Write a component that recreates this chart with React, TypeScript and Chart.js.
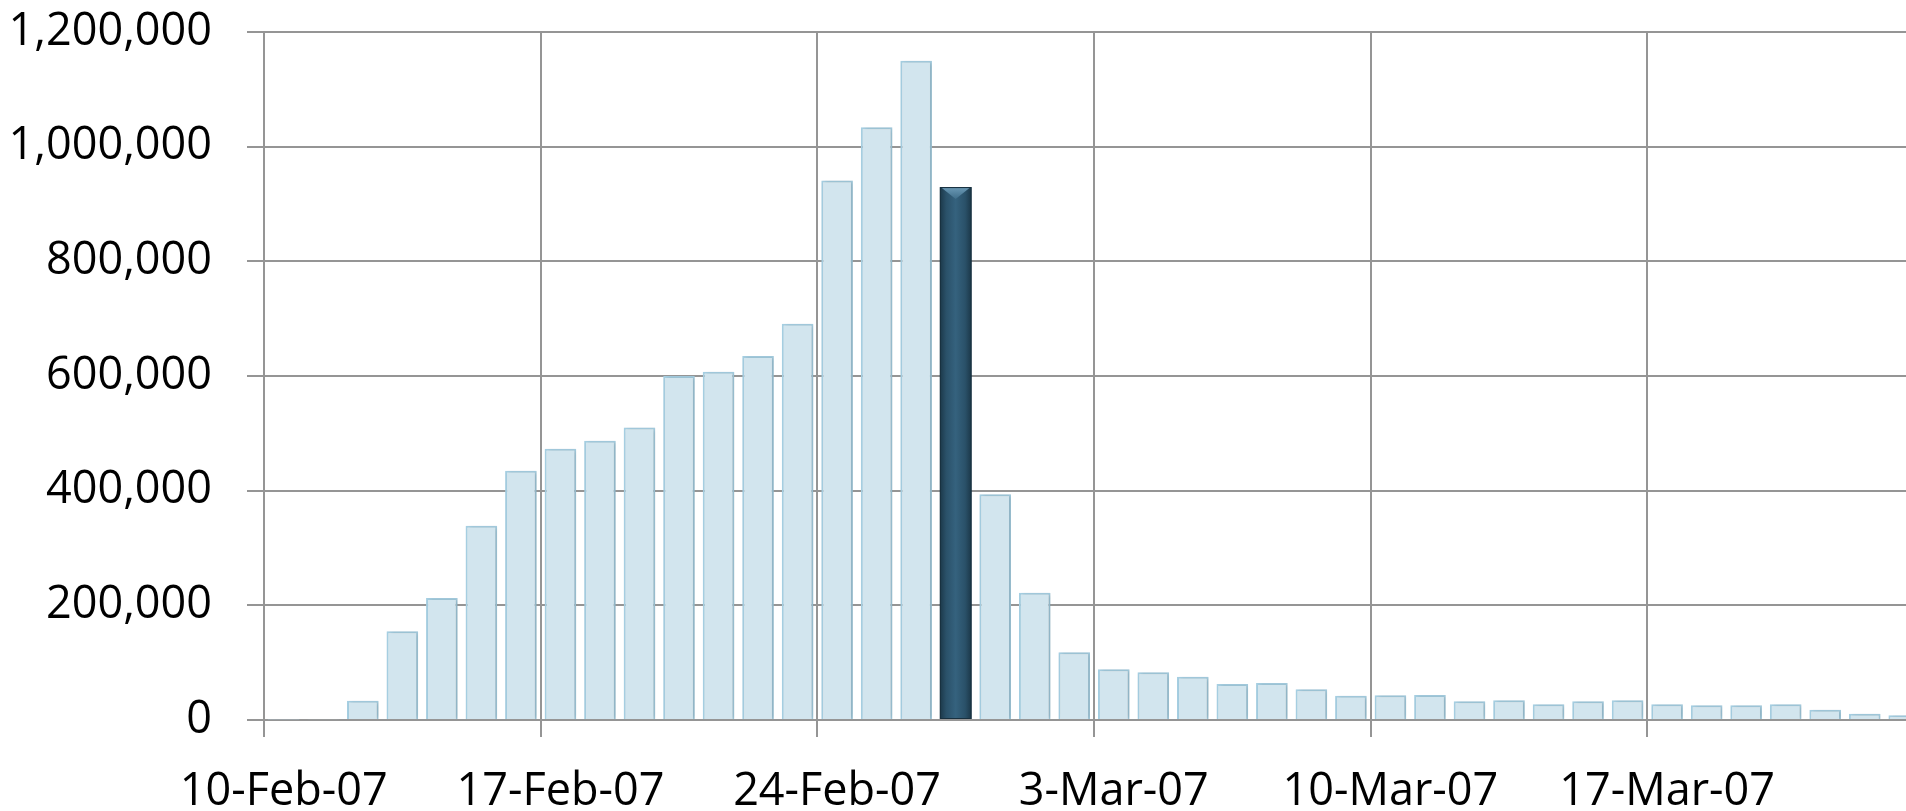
import React, { useEffect, useRef } from 'react';
import { Chart, registerables } from 'chart.js';

Chart.register(...registerables);

const categories: string[] = [
  '10-Feb-07', '11-Feb-07', '12-Feb-07', '13-Feb-07', '14-Feb-07', '15-Feb-07', '16-Feb-07',
  '17-Feb-07', '18-Feb-07', '19-Feb-07', '20-Feb-07', '21-Feb-07', '22-Feb-07', '23-Feb-07',
  '24-Feb-07', '25-Feb-07', '26-Feb-07', '27-Feb-07', '28-Feb-07', '1-Mar-07', '2-Mar-07',
  '3-Mar-07', '4-Mar-07', '5-Mar-07', '6-Mar-07', '7-Mar-07', '8-Mar-07', '9-Mar-07',
  '10-Mar-07', '11-Mar-07', '12-Mar-07', '13-Mar-07', '14-Mar-07', '15-Mar-07', '16-Mar-07',
  '17-Mar-07', '18-Mar-07', '19-Mar-07', '20-Mar-07', '21-Mar-07', '22-Mar-07', '23-Mar-07',
];

const values: number[] = [
  800, 1200, 33700, 155000, 213000, 339000, 434600,
  473000, 487000, 510000, 600000, 607500, 635000, 691000,
  941000, 1033700, 1150000, 929500, 393600, 222000, 118000,
  88300, 83100, 75500, 62700, 64500, 53500, 42400,
  43000, 43600, 32500, 34300, 27300, 32500, 34300,
  27300, 25600, 25600, 27300, 18000, 11000, 8100,
];

const HIGHLIGHT_INDEX = 17;
const LABEL_EVERY = 7;

const yTicks: number[] = [0, 200000, 400000, 600000, 800000, 1000000, 1200000];

const GRID = '#959595';
const LIGHT_FILL = '#D2E5EE';
const LIGHT_BORDER = '#A6CFE2';
const DARK_FILL = '#2C5670';
const DARK_BORDER = '#18303F';
const FONT = { family: '"Open Sans", "Noto Sans", sans-serif', size: 45 };

const shadowPlugin = {
  id: 'barShadow',
  beforeDatasetsDraw(chart: any) {
    const ctx = chart.ctx;
    ctx.save();
    ctx.shadowColor = 'rgba(0,0,0,0.16)';
    ctx.shadowBlur = 4;
    ctx.shadowOffsetX = 2;
    ctx.shadowOffsetY = 0;
  },
  afterDatasetsDraw(chart: any) {
    const ctx = chart.ctx;
    ctx.restore();
    const meta = chart.getDatasetMeta(0);
    const el = meta.data[HIGHLIGHT_INDEX];
    if (!el) return;
    const { x, y, base, width } = el.getProps(['x', 'y', 'base', 'width'], true);
    const x0 = x - width / 2;
    const x1 = x + width / 2;
    ctx.save();
    const g = ctx.createLinearGradient(x0, 0, x1, 0);
    g.addColorStop(0, '#1B3748');
    g.addColorStop(0.2, '#2A5169');
    g.addColorStop(0.5, '#35627E');
    g.addColorStop(0.8, '#2A5169');
    g.addColorStop(1, '#1B3748');
    ctx.fillStyle = g;
    ctx.fillRect(x0, y, width, base - y);
    const bev = 12;
    const gb = ctx.createLinearGradient(0, y, 0, y + bev);
    gb.addColorStop(0, '#6C9AB6');
    gb.addColorStop(1, '#3F6E8A');
    ctx.fillStyle = gb;
    ctx.beginPath();
    ctx.moveTo(x0 + 2, y + 1);
    ctx.lineTo(x1 - 2, y + 1);
    ctx.lineTo(x, y + bev);
    ctx.closePath();
    ctx.fill();
    ctx.strokeStyle = DARK_BORDER;
    ctx.lineWidth = 1;
    ctx.strokeRect(x0 + 0.5, y + 0.5, width - 1, base - y - 1);
    ctx.restore();
  },
};

export default function App() {
  const canvasRef = useRef<HTMLCanvasElement | null>(null);

  useEffect(() => {
    const canvas = canvasRef.current;
    if (!canvas) return;
    const chart = new Chart(canvas, {
      type: 'bar',
      data: {
        labels: categories,
        datasets: [
          {
            data: values,
            backgroundColor: values.map((_, i) => (i === HIGHLIGHT_INDEX ? DARK_FILL : LIGHT_FILL)),
            borderColor: values.map((_, i) => (i === HIGHLIGHT_INDEX ? DARK_BORDER : LIGHT_BORDER)),
            borderWidth: 2,
            barPercentage: 0.8,
            categoryPercentage: 1.0,
          },
        ],
      },
      options: {
        responsive: false,
        animation: false,
        devicePixelRatio: 1,
        layout: { padding: { top: 32, left: 0, right: 0, bottom: 0 } },
        plugins: {
          legend: { display: false },
          tooltip: { enabled: false },
        },
        scales: {
          x: {
            type: 'category',
            offset: true,
            grid: {
              offset: true,
              display: true,
              drawOnChartArea: true,
              drawTicks: true,
              tickLength: 17,
              lineWidth: 2,
              color: (c: any) => (c.index % LABEL_EVERY === 0 ? GRID : 'rgba(0,0,0,0)'),
            },
            border: { display: true, color: GRID, width: 2 },
            ticks: {
              autoSkip: false,
              maxRotation: 0,
              minRotation: 0,
              padding: 28,
              color: '#000',
              font: FONT,
              callback: (_v: any, i: number) => (i % LABEL_EVERY === 0 ? categories[i] : ''),
            },
            afterFit: (s: any) => {
              s.height = 91;
              s.paddingLeft = 0;
              s.paddingRight = 0;
            },
          },
          y: {
            min: yTicks[0],
            max: yTicks[yTicks.length - 1],
            afterBuildTicks: (s: any) => {
              s.ticks = yTicks.map((v) => ({ value: v }));
            },
            grid: {
              color: GRID,
              lineWidth: 2,
              tickLength: 17,
              drawTicks: true,
            },
            border: { display: false },
            ticks: {
              padding: 35,
              color: '#000',
              font: FONT,
              callback: (v: any) => Number(v).toLocaleString('en-US'),
            },
            afterFit: (s: any) => {
              s.width = 264;
              s.paddingTop = 0;
              s.paddingBottom = 0;
            },
          },
        },
      },
      plugins: [shadowPlugin],
    });
    return () => chart.destroy();
  }, []);

  return (
    <div
      style={{
        position: 'fixed',
        left: 0,
        top: 0,
        width: '100vw',
        height: '100vh',
        overflow: 'hidden',
        background: '#fff',
      }}
    >
      <canvas ref={canvasRef} width={1924} height={811} style={{ display: 'block' }} />
    </div>
  );
}
